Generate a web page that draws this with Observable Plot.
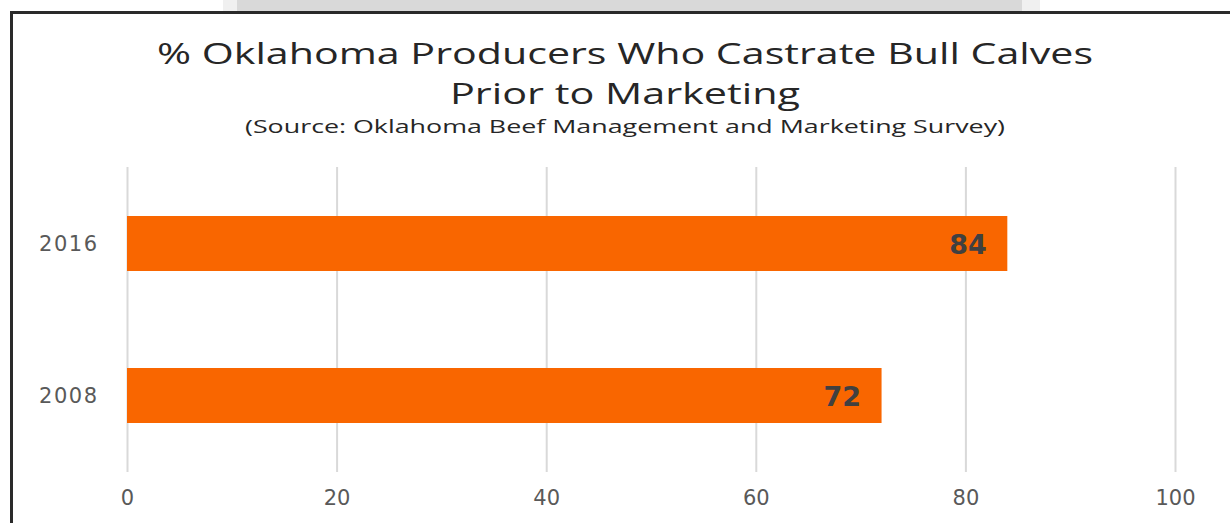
<!DOCTYPE html>
<html>
<head>
<meta charset="utf-8">
<script src="https://cdn.jsdelivr.net/npm/d3@7"></script>
<script src="https://cdn.jsdelivr.net/npm/@observablehq/plot@0.6"></script>
<style>
  html, body { margin: 0; padding: 0; background: #ffffff; }
  #page { position: relative; width: 1230px; height: 523px; overflow: hidden; background: #fff; }
  .band { position: absolute; top: 0; left: 223px; width: 817px; height: 11px;
    background: linear-gradient(to right, #f0f0f0 0px, #f0f0f0 14px, #d9d9d9 14px, #d9d9d9 799px, #f0f0f0 799px, #f0f0f0 817px); }
  .bleft { position: absolute; left: 10px; top: 11px; width: 3px; height: 512px; background: #2a2a2a; }
  .btop { position: absolute; left: 10px; top: 11px; width: 1220px; height: 3px; background: #2a2a2a; }
  .tline { position: absolute; left: 625px; white-space: nowrap; line-height: 1; color: #262626;
    font-family: "Open Sans", sans-serif; transform-origin: 0 0; }
  #t1 { top: 38px; font-size: 29px; }
  #t2 { top: 78px; font-size: 29px; }
  #t3 { top: 117px; font-size: 18px; }
  #chart { position: absolute; left: 0; top: 150px; }
  #chart g[aria-label="y-axis tick label"] text { letter-spacing: 1.5px; }
</style>
</head>
<body>
<div id="page">
  <div class="band"></div>
  <div class="tline" id="t1" data-w="936">% Oklahoma Producers Who Castrate Bull Calves</div>
  <div class="tline" id="t2" data-w="350">Prior to Marketing</div>
  <div class="tline" id="t3" data-w="760">(Source: Oklahoma Beef Management and Marketing Survey)</div>
  <div id="chart"></div>
  <div class="bleft"></div>
  <div class="btop"></div>
</div>
<script>
const years = ["2016", "2008"];
const values = [84, 72];
const xTicks = [0, 20, 40, 60, 80, 100];

const data = years.map((year, i) => ({year, value: values[i]}));

const chart = Plot.plot({
  width: 1230,
  height: 373,
  marginTop: 17,
  marginBottom: 51,
  marginLeft: 127,
  marginRight: 55,
  style: {fontFamily: "DejaVu Sans, Verdana, sans-serif", fontSize: "21px", color: "#595959", background: "transparent", overflow: "visible"},
  x: {domain: [0, 100], ticks: xTicks},
  y: {domain: years, paddingInner: 0.637, paddingOuter: 0.3185},
  marks: [
    Plot.gridX(xTicks, {stroke: "#d9d9d9", strokeOpacity: 1, strokeWidth: 2}),
    Plot.barX(data, {x: "value", y: "year", fill: "#f96600"}),
    Plot.text(data, {x: "value", y: "year", text: d => String(d.value), textAnchor: "end", dx: -21, dy: 1,
      fontSize: 27, fontWeight: "bold", fill: "#404040"}),
    Plot.axisX(xTicks, {tickSize: 0, tickPadding: 18, fill: "#595959", label: null}),
    Plot.axisY({tickSize: 0, tickPadding: 29, fill: "#595959", label: null})
  ]
});
document.getElementById("chart").appendChild(chart);

function fitTitles() {
  document.querySelectorAll(".tline").forEach(el => {
    el.style.transform = "none";
    const w = el.getBoundingClientRect().width;
    const target = +el.dataset.w;
    const k = target / w;
    el.style.transform = `translateX(${-target / 2}px) scaleX(${k})`;
  });
}
fitTitles();
if (document.fonts && document.fonts.ready) document.fonts.ready.then(fitTitles);
</script>
</body>
</html>
